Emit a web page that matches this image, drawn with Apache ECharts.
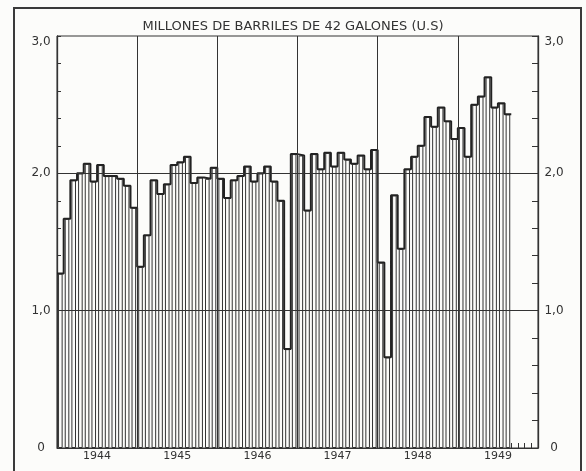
<!DOCTYPE html>
<html><head><meta charset="utf-8">
<script src="https://cdn.jsdelivr.net/npm/echarts@6/dist/echarts.min.js"></script>
<style>html,body{margin:0;padding:0;background:#fcfcfa;} #c{width:586px;height:471px;}</style>
</head><body><div id="c"></div>
<script>
// ---- data (million barrels of 42 US gallons, monthly) ----
const years = ['1944', '1945', '1946', '1947', '1948', '1949'];
const v1944 = [1.27, 1.67, 1.95, 2.00, 2.07, 1.94, 2.06, 1.98, 1.98, 1.96, 1.91, 1.75];
const v1945 = [1.32, 1.55, 1.95, 1.85, 1.92, 2.06, 2.08, 2.12, 1.93, 1.97, 1.96, 2.04];
const v1946 = [1.96, 1.82, 1.95, 1.98, 2.05, 1.94, 2.00, 2.05, 1.94, 1.80, 0.72, 2.14];
const v1947 = [2.13, 1.73, 2.14, 2.03, 2.15, 2.05, 2.15, 2.10, 2.07, 2.13, 2.03, 2.17];
const v1948 = [1.35, 0.66, 1.84, 1.45, 2.03, 2.12, 2.20, 2.41, 2.34, 2.48, 2.38, 2.25];
const v1949 = [2.33, 2.12, 2.50, 2.56, 2.70, 2.48, 2.51, 2.43];
const yTickLabels = {0: '0', 1: '1,0', 2: '2,0', 3: '3,0'};
const titleText = 'MILLONES DE BARRILES DE 42 GALONES (U.S)';

// ---- build ----
const monthly = [].concat(v1944, v1945, v1946, v1947, v1948, v1949);
const nMonths = years.length * 12;
const barData = monthly.map((v, i) => [i + 0.5, v]);
const stepData = monthly.map((v, i) => [i, v]);
stepData.push([monthly.length, monthly[monthly.length - 1]]);
const yearBounds = years.slice(1).map((y, i) => ({xAxis: (i + 1) * 12}));

const W = 586, H = 471;
const G = {left: 57, right: 48, top: 36, bottom: 23};
const plotW = W - G.left - G.right;
const tickGridLeft = G.left + monthly.length * plotW / nMonths;
const ink = '#333';
const bg = '#fcfcfa';
const font = 'DejaVu Sans';

const chart = echarts.init(document.getElementById('c'), null, {renderer: 'canvas'});
const yAxisCommon = {
  type: 'value', gridIndex: 0, min: 0, max: 3, interval: 1,
  axisLine: {show: true, lineStyle: {color: ink, width: 1.3}},
  axisTick: {show: true, inside: true, length: 4, lineStyle: {color: ink}},
  minorTick: {show: true, splitNumber: 5, length: 4, lineStyle: {color: ink}},
  splitLine: {show: false},
  axisLabel: {
    formatter: v => (v === 3 ? '{t|' + yTickLabels[v] + '}' : yTickLabels[v]),
    align: 'center', margin: 16,
    fontFamily: font, fontSize: 12, color: ink,
    rich: {t: {fontFamily: font, fontSize: 12, color: ink, padding: [12, 0, 0, 0]}}
  }
};
chart.setOption({
  backgroundColor: bg,
  animation: false,
  title: {
    text: titleText, left: 'center', top: 20, padding: 0,
    textStyle: {fontFamily: font, fontSize: 13, fontWeight: 'normal', color: ink}
  },
  graphic: [{
    type: 'rect', shape: {x: 14, y: 8, width: 567, height: 520},
    style: {fill: null, stroke: '#3a3a3a', lineWidth: 2}, silent: true, z: 10
  }],
  grid: [
    Object.assign({show: true, borderColor: ink, borderWidth: 1, backgroundColor: 'transparent'}, G),
    {left: tickGridLeft, right: G.right, top: G.top, bottom: G.bottom}
  ],
  xAxis: [
    {type: 'value', gridIndex: 0, min: 0, max: nMonths, interval: 12, position: 'bottom',
     axisLine: {show: true, lineStyle: {color: ink}}, axisTick: {show: false},
     axisLabel: {show: false}, splitLine: {show: false}},
    {type: 'category', gridIndex: 0, data: years, position: 'bottom',
     axisLine: {show: false}, axisTick: {show: false}, splitLine: {show: false},
     axisLabel: {margin: 3, fontFamily: font, fontSize: 11, color: ink}},
    {type: 'value', gridIndex: 1, min: monthly.length, max: nMonths, interval: 1, position: 'bottom',
     axisLine: {show: false}, axisTick: {show: true, inside: true, length: 5, lineStyle: {color: ink}},
     axisLabel: {show: false}, splitLine: {show: false}}
  ],
  yAxis: [
    Object.assign({}, yAxisCommon, {position: 'left'}),
    Object.assign({}, yAxisCommon, {position: 'right',
      axisTick: {show: true, inside: true, length: 6, lineStyle: {color: ink}},
      minorTick: {show: true, splitNumber: 5, length: 6, lineStyle: {color: ink}}}),
    {type: 'value', gridIndex: 1, min: 0, max: 3, show: false}
  ],
  series: [
    {type: 'bar', xAxisIndex: 0, yAxisIndex: 0, data: barData, barWidth: 4.6,
     itemStyle: {color: bg, borderColor: '#333', borderWidth: 1}, z: 2, silent: true},
    {type: 'line', xAxisIndex: 0, yAxisIndex: 0, data: stepData, step: 'end',
     symbol: 'none', lineStyle: {color: '#222', width: 2}, z: 4, silent: true,
     markLine: {
       silent: true, symbol: 'none', label: {show: false}, animation: false,
       lineStyle: {type: 'solid', color: ink, width: 1},
       data: [{yAxis: 1}, {yAxis: 2}].concat(yearBounds)
     }}
  ]
});
</script></body></html>
